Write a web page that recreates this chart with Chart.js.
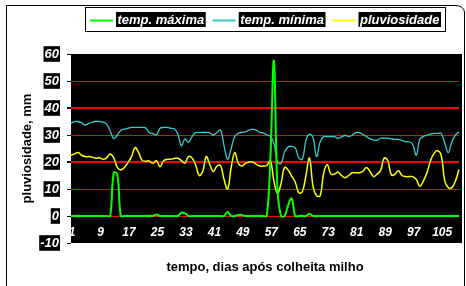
<!DOCTYPE html>
<html><head><meta charset="utf-8">
<script src="https://cdn.jsdelivr.net/npm/chart.js@4/dist/chart.umd.min.js"></script>
<style>html,body{margin:0;padding:0;background:#fff;}#wrap{position:relative;width:466px;height:286px;}</style>
</head><body><div id="wrap"><canvas id="c" width="466" height="286"></canvas></div>
<script>
// categories: days after maize harvest
const days = ['1','2','3','4','5','6','7','8','9','10','11','12','13','14','15','16','17','18','19','20',
'21','22','23','24','25','26','27','28','29','30','31','32','33','34','35','36','37','38','39','40',
'41','42','43','44','45','46','47','48','49','50','51','52','53','54','55','56','57','58','59','60',
'61','62','63','64','65','66','67','68','69','70','71','72','73','74','75','76','77','78','79','80',
'81','82','83','84','85','86','87','88','89','90','91','92','93','94','95','96','97','98','99','100',
'101','102','103','104','105','106','107','108','109','110'];
const xTickLabels = ['1','9','17','25','33','41','49','57','65','73','81','89','97','105'];
const yTicks = [-10,0,10,20,30,40,50,60];

const tempMaxima = [
0,0,0,0,0,0,0,0,0,0,
0,0,16,15.5,0,0,0,0,0,0,
0,0,0,0,0.6,0,0,0,0,0,
0,1.2,1,0,0,0,0,0,0,0,
0,0,0,0,1.5,0,0,0.4,0.4,0,
0,0,0,0,0,0,21,57.5,10,0,
0,4,6.5,0,0,0,0,0.8,0,0,
0,0,0,0,0,0,0,0,0,0,
0,0,0,0,0,0,0,0,0,0,
0,0,0,0,0,0,0,0,0,0,
0,0,0,0,0,0,0,0,0,0];
const tempMinima = [
34.3,35,35,34.5,33.7,34.3,34.8,35,35,34.8,
34,31.5,28.6,30,31.8,32.2,32.5,32.8,32.8,32.8,
32.8,32.6,30.8,30.5,30,32.5,32.8,32.8,32.5,32.3,
30.5,26,28.5,27.3,29.4,30.9,30.9,31,31,30.8,
30,31,31.8,26,21,25,29.5,30.6,31,31.2,
31.8,32.2,31.8,31,30.8,30,29.5,27,20,19.5,
23.8,25.6,25.8,25.2,21.5,21,28,30.3,29,22,
27.5,29.4,29.4,29.4,29.4,28.8,29.3,29.9,29.4,29.9,
30.9,30.9,30.2,29.4,28.6,28.1,28.1,28.8,28.8,28.8,
28.6,28.4,28.4,28,27.5,27.5,26.5,22.5,28.5,29.5,
29.9,30.3,30.6,30.6,30.6,27,23.5,27.5,30,31.2];
const pluviosidade = [
22.5,23,23.5,22.5,22,22,21.8,21.4,21.6,21,
21.5,23,21.5,18,17,18,19.8,22,25.3,23.5,
20.6,20.3,20.4,19.5,20.5,18.2,20.5,21,21,21.3,
21.4,20.5,19.6,22,21.5,19,15,16.5,22,19,
16.5,18.5,18.7,13.5,10,18,23.5,19.5,18.5,19.5,
20,20,19.2,18.5,18.5,18.7,20.5,13,8.4,12,
18,17,14.8,12.5,8.6,9,15,21.4,11,7.5,
7.5,16,19,15.5,15.5,16.3,15,14.2,15,16,
16,16,16.5,18,16.5,14.6,15.5,17,21.5,20.5,
15.2,15.5,16.8,15,14.6,14.6,14.6,13.5,11,13,
16,20.5,23.2,24.2,22.5,13,10.5,10.5,13,17.2];

const SANS = '"Liberation Sans", Arial, sans-serif';

const bgPlugin = {
  id:'bg',
  beforeDraw(chart){
    const {ctx, chartArea:a} = chart;
    ctx.save();
    ctx.fillStyle = '#000';
    ctx.fillRect(a.left, a.top, a.right - a.left + 3, a.bottom - a.top);
    ctx.restore();
  },
  beforeDatasetsDraw(chart){
    // category tick labels, drawn inside the plot band just above its bottom edge
    const ctx = chart.ctx, xs = chart.scales.x, a = chart.chartArea;
    ctx.save();
    ctx.font = 'italic bold 12px ' + SANS;
    ctx.fillStyle = '#fff';
    ctx.textAlign = 'center';
    ctx.textBaseline = 'middle';
    xTickLabels.forEach(l => {
      const px = xs.getPixelForValue(days.indexOf(l));
      ctx.fillText(l, px + 1, a.bottom - 10);
    });
    ctx.restore();
  },
  afterDraw(chart){
    const ctx = chart.ctx;
    ctx.save();
    // outer frame
    ctx.strokeStyle = '#000'; ctx.lineWidth = 1;
    ctx.beginPath();
    ctx.moveTo(6.5, 290); ctx.lineTo(6.5, 5.5); ctx.lineTo(455, 5.5);
    ctx.quadraticCurveTo(463.5, 5.5, 464.5, 12); ctx.lineTo(464.5, 290);
    ctx.stroke();
    // legend box
    ctx.strokeRect(85.5, 7.5, 360, 24);
    ctx.font = 'italic bold 13px ' + SANS;
    ctx.textBaseline = 'middle';
    let x = 90;
    chart.data.datasets.forEach(ds => {
      ctx.strokeStyle = ds.borderColor; ctx.lineWidth = 2;
      ctx.beginPath(); ctx.moveTo(x, 20.5); ctx.lineTo(x + 23, 20.5); ctx.stroke();
      const tx = x + 26;
      const w = ctx.measureText(ds.label).width;
      ctx.fillStyle = '#000';
      ctx.fillRect(tx, 12, w + 3, 15);
      ctx.fillStyle = '#fff';
      ctx.fillText(ds.label, tx + 1.5, 20);
      x = tx + w + 3 + 7;
    });
    ctx.restore();
  }
};

new Chart(document.getElementById('c'), {
  type:'line',
  data:{
    labels: days,
    datasets:[
      {label:'temp. máxima', data:tempMaxima, borderColor:'#00FF00', borderWidth:2},
      {label:'temp. mínima', data:tempMinima, borderColor:'#33CCCC', borderWidth:1.3},
      {label:'pluviosidade', data:pluviosidade, borderColor:'#FFFF00', borderWidth:1.5}
    ]
  },
  options:{
    responsive:false, animation:false, devicePixelRatio:1,
    layout:{padding:{left:0, top:54, right:7, bottom:0}},
    plugins:{legend:{display:false}, tooltip:{enabled:false}},
    elements:{point:{radius:0}, line:{tension:0.4, fill:false}},
    scales:{
      x:{
        type:'category', offset:false,
        grid:{display:false, drawTicks:false},
        border:{display:false},
        ticks:{display:false},
        title:{display:true, text:'tempo, dias após colheita milho', color:'#000',
          font:{family:SANS, size:13, weight:'bold'}, padding:{top:0, bottom:11}},
        afterFit(s){ s.height = 43; }
      },
      y:{
        min:-10, max:60,
        afterBuildTicks(s){ s.ticks = yTicks.map(v => ({value:v})); },
        ticks:{padding:8, color:'#fff', font:{family:SANS, size:13, weight:'bold', style:'italic'},
          showLabelBackdrop:true, backdropColor:'#000', backdropPadding:{left:1, right:1, top:0, bottom:0}},
        grid:{
          color(c){ const v = c.tick && c.tick.value; return (v === 60 || v === -10) ? 'rgba(0,0,0,0)' : '#FF0000'; },
          lineWidth(c){ const v = c.tick && c.tick.value; return (v === 40 || v === 20) ? 2 : 1; },
          tickColor:'#000', tickLength:4, drawTicks:true
        },
        border:{display:false},
        title:{display:true, text:'pluviosidade, mm', color:'#000',
          font:{family:SANS, size:13, weight:'bold'}, padding:{top:20, bottom:0}},
        afterFit(s){ s.width = 71; }
      }
    }
  },
  plugins:[bgPlugin]
});
</script></body></html>
